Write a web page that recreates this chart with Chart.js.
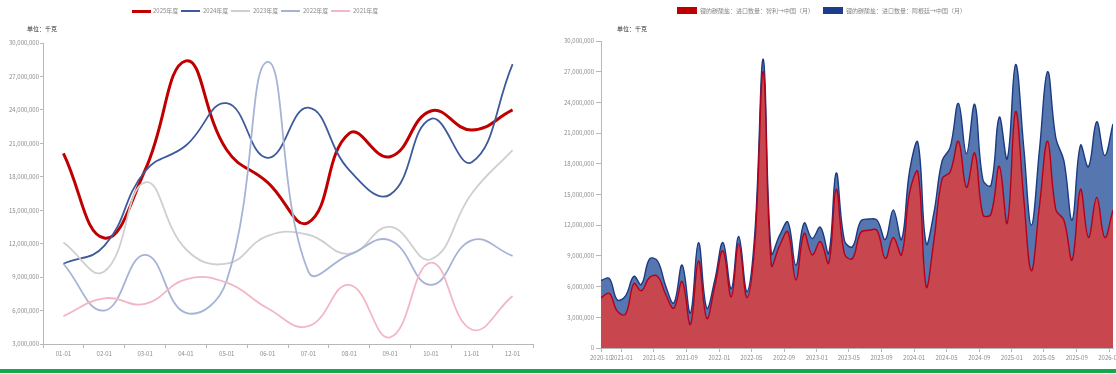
<!DOCTYPE html>
<html>
<head>
<meta charset="utf-8">
<script src="https://cdn.jsdelivr.net/npm/chart.js@4.4.1/dist/chart.umd.min.js"></script>
<style>
  html, body { margin: 0; padding: 0; background: #fff; }
  body { position: relative; width: 1116px; height: 374px; overflow: hidden;
         font-family: "Noto Sans CJK SC", "Noto Sans", sans-serif; }
  #leftWrap { position: absolute; left: 0; top: 0; width: 545px; height: 374px; }
  #rightWrap { position: absolute; left: 560px; top: 0; width: 556px; height: 374px; }
  .lg { position: absolute; font-size: 6px; line-height: 8px; color: #888; white-space: nowrap; }
  .lgLine { position: absolute; height: 2px; width: 19px; }
  .lgBox { position: absolute; height: 7px; width: 20px; }
  .unit { position: absolute; top: 25px; font-size: 6px; line-height: 8px; color: #333; white-space: nowrap; }
  #bottomRule { position: absolute; left: 0; top: 369px; width: 1116px; height: 4px; background: #15a74c; }
</style>
</head>
<body>
<div id="leftWrap"><canvas id="leftChart" width="545" height="374"></canvas></div>
<div id="rightWrap"><canvas id="rightChart" width="556" height="374"></canvas></div>

<!-- legend, left panel -->
<div class="lgLine" style="left:132px;top:10px;height:3px;background:#c00000"></div>
<div class="lg" style="left:153px;top:7px">2025年度</div>
<div class="lgLine" style="left:181px;top:10px;background:#3d5a9c"></div>
<div class="lg" style="left:203px;top:7px">2024年度</div>
<div class="lgLine" style="left:231px;top:10px;background:#cfcfcf"></div>
<div class="lg" style="left:253px;top:7px">2023年度</div>
<div class="lgLine" style="left:281px;top:10px;background:#a5b4d6"></div>
<div class="lg" style="left:303px;top:7px">2022年度</div>
<div class="lgLine" style="left:331px;top:10px;background:#f2b7c4"></div>
<div class="lg" style="left:353px;top:7px">2021年度</div>
<div class="unit" style="left:27px">单位：千克</div>

<!-- legend, right panel -->
<div class="lgBox" style="left:677px;top:7px;background:#c00000"></div>
<div class="lg" style="left:700px;top:7px">锂的碳酸盐：进口数量：智利→中国（月）</div>
<div class="lgBox" style="left:823px;top:7px;background:#1c3c8c"></div>
<div class="lg" style="left:846px;top:7px">锂的碳酸盐：进口数量：阿根廷→中国（月）</div>
<div class="unit" style="left:617px">单位：千克</div>

<div id="bottomRule"></div>

<script>
// ---------- left panel: monthly series by year ----------
const monthLabels = ['01-01','02-01','03-01','04-01','05-01','06-01','07-01','08-01','09-01','10-01','11-01','12-01'];
const year2025 = [20100000,12500000,18600000,28400000,20400000,17500000,13900000,21900000,19800000,23900000,22200000,24000000];
const year2024 = [10200000,11800000,18500000,20800000,24600000,19700000,24200000,18600000,16400000,23200000,19300000,28100000];
const year2023 = [12100000,9500000,17500000,11500000,10200000,12700000,12800000,11100000,13500000,10600000,16500000,20400000];
const year2022 = [10200000,6000000,11000000,5800000,8700000,28300000,9500000,11000000,12300000,8300000,12300000,10900000];
const year2021 = [5500000,7100000,6600000,8800000,8500000,6200000,4600000,8300000,3600000,10300000,4300000,7300000];
const leftTicks = [3000000,6000000,9000000,12000000,15000000,18000000,21000000,24000000,27000000,30000000];

// ---------- right panel: monthly imports by origin ----------
const importMonths = [
  '2020-10','2020-11','2020-12','2021-01','2021-02','2021-03','2021-04','2021-05','2021-06','2021-07','2021-08','2021-09',
  '2021-10','2021-11','2021-12','2022-01','2022-02','2022-03','2022-04','2022-05','2022-06','2022-07','2022-08','2022-09',
  '2022-10','2022-11','2022-12','2023-01','2023-02','2023-03','2023-04','2023-05','2023-06','2023-07','2023-08','2023-09',
  '2023-10','2023-11','2023-12','2024-01','2024-02','2024-03','2024-04','2024-05','2024-06','2024-07','2024-08','2024-09',
  '2024-10','2024-11','2024-12','2025-01','2025-02','2025-03','2025-04','2025-05','2025-06','2025-07','2025-08','2025-09',
  '2025-10','2025-11','2025-12','2026-01'
];
const fromChile = [
  4900000,5350000,3600000,3300000,6300000,5600000,6900000,7000000,5200000,3900000,
  6500000,2300000,8500000,2900000,6000000,9500000,5000000,10200000,4900000,10500000,
  27000000,8100000,10000000,11350000,6650000,11200000,9100000,10400000,8300000,15500000,
  9200000,8750000,11300000,11500000,11500000,8750000,10800000,9100000,15200000,17200000,
  6000000,10500000,16550000,17200000,20200000,15700000,19050000,13000000,13100000,17750000,
  12200000,23100000,14500000,7550000,14000000,20200000,13500000,12500000,8600000,15500000,
  10800000,14700000,10800000,13500000
];
const fromArgentina = [
  1700000,1450000,1100000,1800000,700000,600000,1800000,1500000,800000,500000,
  1600000,1100000,1800000,1000000,600000,800000,800000,700000,600000,1000000,
  1200000,1150000,1000000,950000,1450000,1000000,1600000,1400000,950000,1600000,
  1300000,1150000,1100000,1100000,1000000,1850000,2700000,1500000,2100000,2900000,
  4200000,2700000,1750000,2400000,3700000,3300000,4750000,3400000,2800000,4800000,
  6300000,4600000,5000000,4450000,5500000,6800000,7000000,5800000,3900000,4300000,
  6900000,7400000,8000000,8400000
];
const rightTickMonths = ['2021-01','2021-05','2021-09','2022-01','2022-05','2022-09','2023-01','2023-05',
  '2023-09','2024-01','2024-05','2024-09','2025-01','2025-05','2025-09','2026-01'];
const rightTicks = [0,3000000,6000000,9000000,12000000,15000000,18000000,21000000,24000000,27000000,30000000];

// ---------- helpers ----------
const DAY = 86400000;
function monthDay(s, d) {            // day number of a given day in a 'YYYY-MM' month
  const [y, m] = s.split('-').map(Number);
  return Date.UTC(y, m - 1, d) / DAY;
}
const fmt = v => Number(v).toLocaleString('en-US');
const tickFont = { family: '"Noto Sans CJK SC", "Noto Sans", sans-serif', size: 6 };
const axisGray = '#b8b8b8';
const labelGray = '#8c8c8c';

// ---------- left chart ----------
function lineSet(label, data, color, width) {
  return { label, data, borderColor: color, backgroundColor: color, borderWidth: width,
           pointRadius: 0, tension: 0.45, fill: false };
}
new Chart(document.getElementById('leftChart'), {
  type: 'line',
  data: {
    labels: monthLabels,
    datasets: [
      lineSet('2025年度', year2025, '#c00000', 3),
      lineSet('2024年度', year2024, '#3d5a9c', 1.8),
      lineSet('2023年度', year2023, '#cfcfcf', 1.8),
      lineSet('2022年度', year2022, '#a5b4d6', 1.8),
      lineSet('2021年度', year2021, '#f2b7c4', 1.8)
    ].reverse()
  },
  options: {
    responsive: false, animation: false, events: [],
    layout: { padding: { top: 43, right: 12, left: 0, bottom: 0 } },
    plugins: { legend: { display: false }, tooltip: { enabled: false } },
    scales: {
      x: {
        offset: true,
        grid: { offset: true, drawOnChartArea: false, tickLength: 4, color: axisGray },
        border: { color: axisGray },
        ticks: { font: tickFont, color: labelGray, padding: 2, maxRotation: 0, autoSkip: false },
        afterFit(s) { s.height = 30; }
      },
      y: {
        min: 3000000, max: 30000000,
        afterBuildTicks(s) { s.ticks = leftTicks.map(v => ({ value: v })); },
        grid: { drawOnChartArea: false, tickLength: 3, color: axisGray },
        border: { color: axisGray },
        ticks: { font: tickFont, color: labelGray, padding: 1, callback: v => fmt(v) },
        afterFit(s) { s.width = 43; }
      }
    }
  }
});

// ---------- right chart ----------
const xs = importMonths.map(s => monthDay(s, 15));
const xMin = xs[0], xMax = xs[xs.length - 1];
const tickLabelAt = new Map([[xMin, importMonths[0]]]);
rightTickMonths.forEach(s => tickLabelAt.set(monthDay(s, 1), s));

new Chart(document.getElementById('rightChart'), {
  type: 'line',
  data: {
    datasets: [
      {
        label: '锂的碳酸盐：进口数量：智利→中国（月）',
        data: fromChile.map((v, i) => ({ x: xs[i], y: v })),
        borderColor: '#b3001b', backgroundColor: 'rgba(200,70,78,1)',
        borderWidth: 1.4, pointRadius: 0, tension: 0.4, fill: 'origin'
      },
      {
        label: '锂的碳酸盐：进口数量：阿根廷→中国（月）',
        data: fromArgentina.map((v, i) => ({ x: xs[i], y: v })),
        borderColor: '#1c3a82', backgroundColor: 'rgba(86,118,176,1)',
        borderWidth: 1.4, pointRadius: 0, tension: 0.4, fill: '-1'
      }
    ]
  },
  options: {
    responsive: false, animation: false, events: [],
    layout: { padding: { top: 41, right: 3, left: 0, bottom: 0 } },
    plugins: { legend: { display: false }, tooltip: { enabled: false } },
    scales: {
      x: {
        type: 'linear', min: xMin, max: xMax,
        afterBuildTicks(s) { s.ticks = [...tickLabelAt.keys()].map(v => ({ value: v })); },
        grid: { drawOnChartArea: false, tickLength: 4, color: axisGray },
        border: { color: axisGray },
        ticks: { font: tickFont, color: labelGray, padding: 2, maxRotation: 0, autoSkip: false,
                 callback: v => tickLabelAt.get(v) || '' },
        afterFit(s) { s.height = 26; s.paddingLeft = 0; s.paddingRight = 0; }
      },
      y: {
        stacked: true, min: 0, max: 30000000,
        afterBuildTicks(s) { s.ticks = rightTicks.map(v => ({ value: v })); },
        grid: { drawOnChartArea: false, tickLength: 5, color: axisGray },
        border: { color: axisGray },
        ticks: { font: tickFont, color: labelGray, padding: 2, callback: v => fmt(v) },
        afterFit(s) { s.width = 41; }
      }
    }
  }
});
</script>
</body>
</html>
